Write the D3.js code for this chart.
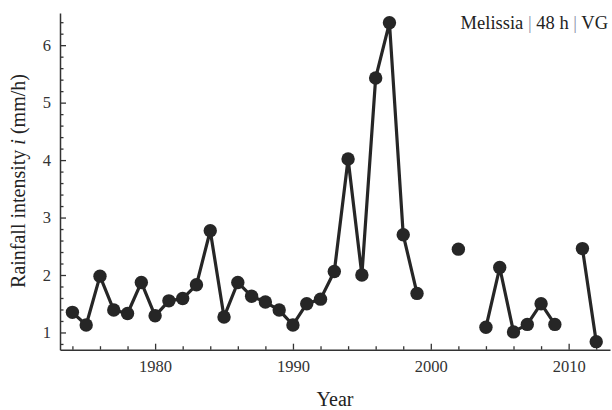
<!DOCTYPE html>
<html>
<head>
<meta charset="utf-8">
<script src="https://cdn.jsdelivr.net/npm/d3@7"></script>
<style>
    body { margin: 0; background: #fff; }
    svg text { font-family: "Liberation Serif", "DejaVu Serif", serif; }
</style>
</head>
<body>
<svg id="chart" width="612" height="410"></svg>
<script>
const years = d3.range(1974, 2013);
// null => no observation that year (breaks the line)
const intensity = [
    1.35, 1.13, 1.98, 1.39, 1.33, 1.87, 1.29, 1.55, 1.59, 1.83,
    2.77, 1.27, 1.87, 1.63, 1.53, 1.39, 1.13, 1.50, 1.58, 2.06,
    4.02, 2.00, 5.43, 6.39, 2.70, 1.68, null, null, 2.45, null,
    1.09, 2.13, 1.01, 1.14, 1.50, 1.14, null, 2.46, 0.84
];
const xMajor = [1980, 1990, 2000, 2010];
const yMajor = [1, 2, 3, 4, 5, 6];
const title = "Melissia | 48 h | VG";

const svg = d3.select("#chart");
const data = years.map((y, i) => ({ year: y, value: intensity[i] }));

const x = d3.scaleLinear().domain([1973.1, 2013]).range([60, 610]);
const y = d3.scaleLinear().domain([0.70, 6.56]).range([349.7, 13]);

const xMinor = d3.range(1974, 2013, 2).filter(d => xMajor.indexOf(d) < 0);
const yMinor = d3.range(8, 66, 2).map(d => d / 10).filter(d => yMajor.indexOf(d) < 0);

// minor ticks first
svg.append("g")
    .attr("transform", "translate(0,349.7)")
    .call(d3.axisBottom(x).tickValues(xMinor).tickSize(-3.5).tickFormat(""))
    .call(g => g.select(".domain").remove());
svg.append("g")
    .attr("transform", "translate(60,0)")
    .call(d3.axisLeft(y).tickValues(yMinor).tickSize(-3.5).tickFormat(""))
    .call(g => g.select(".domain").remove());

const xAxis = svg.append("g")
    .attr("transform", "translate(0,349.7)")
    .call(d3.axisBottom(x).tickValues(xMajor).tickSize(-6).tickSizeOuter(0)
        .tickPadding(11).tickFormat(d3.format("d")));
const yAxis = svg.append("g")
    .attr("transform", "translate(60,0)")
    .call(d3.axisLeft(y).tickValues(yMajor).tickSize(-6).tickSizeOuter(0)
        .tickPadding(9).tickFormat(d3.format("d")));

svg.selectAll(".tick line").attr("stroke", "#333").attr("stroke-width", 1.3);
svg.selectAll(".domain").attr("stroke", "#333").attr("stroke-width", 1.5);
[xAxis, yAxis].forEach(a => a.selectAll("text")
    .attr("fill", "#333")
    .style("font-size", "16.5px")
    .style("font-family", "Liberation Serif, serif"));

// axis titles
svg.append("text")
    .attr("x", 335).attr("y", 406)
    .attr("text-anchor", "middle")
    .attr("fill", "#222")
    .style("font-size", "20px")
    .text("Year");

const yLab = svg.append("text")
    .attr("transform", "translate(25,181) rotate(-90)")
    .attr("text-anchor", "middle")
    .attr("fill", "#222")
    .style("font-size", "20px");
yLab.append("tspan").text("Rainfall intensity ");
yLab.append("tspan").style("font-style", "italic").text("i");
yLab.append("tspan").text(" (mm/h)");

// title, top-right
const t = svg.append("text")
    .attr("x", 608).attr("y", 29)
    .attr("text-anchor", "end")
    .attr("fill", "#222")
    .style("font-size", "18.5px");
title.split(" | ").forEach((part, i) => {
    if (i > 0) t.append("tspan").attr("fill", "#8a8fa8").text(" | ");
    t.append("tspan").text(part);
});

// series
const line = d3.line()
    .defined(d => d.value !== null)
    .x(d => x(d.year))
    .y(d => y(d.value));

svg.append("path")
    .datum(data)
    .attr("fill", "none")
    .attr("stroke", "#262626")
    .attr("stroke-width", 3.2)
    .attr("stroke-linejoin", "round")
    .attr("d", line);

svg.append("g")
    .selectAll("circle")
    .data(data.filter(d => d.value !== null))
    .enter()
    .append("circle")
    .attr("cx", d => x(d.year))
    .attr("cy", d => y(d.value))
    .attr("r", 6.7)
    .attr("fill", "#262626");
</script>
</body>
</html>
